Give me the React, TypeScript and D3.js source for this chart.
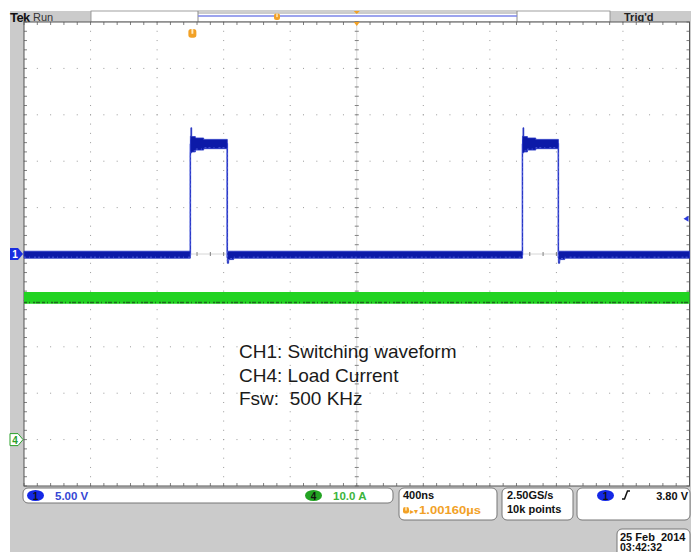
import React from "react";
import * as d3 from "d3";

// CH1 switching node: time in us, envelope low / high in volts (step segments)
const ch1Time = [-1.0, 0.0, 0.003, 0.008, 0.03, 0.08, 0.222, 0.23, 0.26, 1.996, 1.999, 2.004, 2.026, 2.076, 2.212, 2.22, 2.25, 3.0];
const ch1Lo = [-0.45, 10.9, 10.9, 11.0, 11.2, 11.35, -1.0, -0.6, -0.45, 10.9, 10.9, 11.0, 11.2, 11.35, -1.0, -0.6, -0.45, -0.45];
const ch1Hi = [0.3, 12.7, 13.6, 12.65, 12.5, 12.35, 0.3, 0.3, 0.3, 12.7, 13.6, 12.65, 12.5, 12.35, 0.3, 0.3, 0.3, 0.3];

// CH4 load current, amps
const ch4Time = [-1.0, 0.5, 1.0, 1.5, 2.0, 2.5, 3.0];
const ch4Lo = [29.3, 29.3, 29.3, 29.3, 29.3, 29.3, 29.3];
const ch4Hi = [31.8, 31.8, 31.8, 31.8, 31.8, 31.8, 31.8];

const notes = ["CH1: Switching waveform", "CH4: Load Current", "Fsw:  500 KHz"];
const trigLevel = 3.8;

const L = 24, R = 689.5, T = 22, B = 486;
const ui = "'Liberation Sans', Arial, sans-serif";
const orange = "#f2a126";

export default function App() {
  const x = d3.scaleLinear().domain([-1, 3]).range([L, R]);
  const y1 = d3.scaleLinear().domain([-25, 25]).range([B, T]);
  const y4 = d3.scaleLinear().domain([-10, 90]).range([B, T]);
  const gx = d3.scaleLinear().domain([0, 10]).range([L, R]);
  const gy = d3.scaleLinear().domain([0, 10]).range([T, B]);

  const ch1 = ch1Time.map((t, i) => ({ t, lo: ch1Lo[i], hi: ch1Hi[i] }));
  const ch4 = ch4Time.map((t, i) => ({ t, lo: ch4Lo[i], hi: ch4Hi[i] }));

  const band1 = d3.area<any>().x(d => x(d.t)).y0(d => y1(d.lo)).y1(d => y1(d.hi)).curve(d3.curveStepAfter);
  const edge1 = d3.line<any>().x(d => x(d.t)).y(d => y1((d.lo + d.hi) / 2)).curve(d3.curveStepAfter);
  const low1 = d3.line<any>().x(d => x(d.t)).y(d => y1(d.lo) - 1).curve(d3.curveStepAfter);
  const band4 = d3.area<any>().x(d => x(d.t)).y0(d => y4(d.lo)).y1(d => y4(d.hi));
  const low4 = d3.line<any>().x(d => x(d.t)).y(d => y4(d.lo) - 1.2);

  const minors = d3.range(0, 50.5, 1).map(j => j / 5);
  const majors = d3.range(1, 10);

  const dots: JSX.Element[] = [];
  majors.forEach(i => {
    minors.forEach((m, k) => {
      if (i !== 5) dots.push(<rect key={`v${i}-${k}`} x={gx(i) - 0.5} y={gy(m) - 0.5} width={1} height={1} fill="#9a9a9a" />);
      if (i !== 5) dots.push(<rect key={`h${i}-${k}`} x={gx(m) - 0.5} y={gy(i) - 0.5} width={1} height={1} fill="#9a9a9a" />);
    });
  });

  const ticks: JSX.Element[] = [];
  minors.forEach((m, k) => {
    ticks.push(<line key={`cv${k}`} x1={gx(5) - 2} x2={gx(5) + 2} y1={gy(m)} y2={gy(m)} />);
    ticks.push(<line key={`ch${k}`} y1={gy(5) - 2} y2={gy(5) + 2} x1={gx(m)} x2={gx(m)} />);
    ticks.push(<line key={`bt${k}`} x1={gx(m)} x2={gx(m)} y1={T} y2={T + 3} />);
    ticks.push(<line key={`bb${k}`} x1={gx(m)} x2={gx(m)} y1={B} y2={B - 3} />);
    ticks.push(<line key={`bl${k}`} x1={L} x2={L + 3} y1={gy(m)} y2={gy(m)} />);
    ticks.push(<line key={`br${k}`} x1={R} x2={R - 3} y1={gy(m)} y2={gy(m)} />);
  });

  const uMark = (cx: number, cy: number, s: number) => (
    <g>
      <rect x={cx - s / 2} y={cy - s / 2} width={s} height={s * 1.1} rx={s * 0.35} fill={orange} />
      <rect x={cx - s * 0.12} y={cy - s / 2} width={s * 0.24} height={s * 0.6} fill="#ffe9c0" />
    </g>
  );

  const t4 = y4(0);
  const t1 = y1(0);

  return (
    <div>
      <style>{`body{margin:0}`}</style>
      <svg width={699} height={552} style={{ display: "block", background: "#fff" }}>
        {/* instrument frame */}
        <rect x={10} y={11} width={681} height={541} fill="#cbcbcb" />
        <rect x={91} y={11} width={519} height={11} fill="#fff" stroke="#888" strokeWidth={0.8} />
        <line x1={198} x2={198} y1={11} y2={22} stroke="#888" />
        <line x1={517} x2={517} y1={11} y2={22} stroke="#888" />
        <line x1={198} x2={517} y1={13} y2={13} stroke="#999" />
        <line x1={198} x2={517} y1={16} y2={16} stroke="#7b84e8" strokeWidth={1.5} />
        {uMark(277, 16.5, 6)}
        <path d={`M${gx(5) - 3},11 L${gx(5) + 3},11 L${gx(5)},14 Z`} fill={orange} />
        <text x={10} y={21.5} fontFamily={ui} fontWeight="bold" fontSize={13} fill="#111" letterSpacing={-0.6}>Tek</text>
        <text x={33} y={21} fontFamily={ui} fontSize={11} fill="#333">Run</text>
        <text x={624} y={21} fontFamily={ui} fontWeight="bold" fontSize={11} fill="#222">Trig'd</text>

        {/* graticule */}
        <rect x={L} y={T} width={R - L} height={B - T} fill="#fff" />
        <line x1={gx(5)} x2={gx(5)} y1={T} y2={B} stroke="#d6d6d6" />
        <line x1={L} x2={R} y1={gy(5)} y2={gy(5)} stroke="#d6d6d6" />
        {dots}
        <g stroke="#808080" strokeWidth={1}>{ticks}</g>
        <rect x={L} y={T} width={R - L} height={B - T} fill="none" stroke="#555" strokeWidth={1} />

        {/* CH4 trace */}
        <path d={band4(ch4) || ""} fill="#22d322" />
        <path d={low4(ch4) || ""} fill="none" stroke="#1d6b1d" strokeWidth={1.6} strokeDasharray="3 2 1 3 2 1 4 2" />

        {/* CH1 trace */}
        <path d={edge1(ch1) || ""} fill="none" stroke="#6b78ea" strokeWidth={1.6} />
        <path d={band1(ch1) || ""} fill="#0c1aa8" stroke="#2433c4" strokeWidth={0.8} />
        <path d={low1(ch1) || ""} fill="none" stroke="#4b5ad6" strokeWidth={1} strokeDasharray="2 3 1 4 2 2" />

        {/* markers */}
        <path d={`M${gx(5) - 3},${T} L${gx(5) + 3},${T} L${gx(5)},${T + 4} Z`} fill={orange} />
        {uMark(x(0) + 2, 33, 8)}
        <path d={`M10,${t1 - 6} L18,${t1 - 6} L23,${t1} L18,${t1 + 6} L10,${t1 + 6} Z`} fill="#1a2ee0" />
        <text x={15} y={t1 + 4} fontFamily={ui} fontWeight="bold" fontSize={10} fill="#fff" textAnchor="middle">1</text>
        <path d={`M10,${t4 - 6} L18,${t4 - 6} L23,${t4} L18,${t4 + 6} L10,${t4 + 6} Z`} fill="#fff" stroke="#2aa02a" strokeWidth={1} />
        <text x={15} y={t4 + 4} fontFamily={ui} fontWeight="bold" fontSize={10} fill="#2aa02a" textAnchor="middle">4</text>
        <path d={`M${R - 6},${y1(trigLevel)} L${R - 1},${y1(trigLevel) - 3} L${R - 1},${y1(trigLevel) + 3} Z`} fill="#2a3be0" />

        {/* annotation */}
        {notes.map((n, i) => (
          <text key={i} x={239} y={358 + i * 23.5} fontFamily={ui} fontSize={19} fill="#1a1a1a" style={{ whiteSpace: "pre" }}>{n}</text>
        ))}

        {/* status bar */}
        <rect x={23} y={488} width={370} height={15} rx={5} fill="#fff" stroke="#777" />
        <ellipse cx={35.5} cy={495.5} rx={8.5} ry={5.5} fill="#1428e6" />
        <text x={35.5} y={499.5} fontFamily={ui} fontWeight="bold" fontSize={10} fill="#111" textAnchor="middle">1</text>
        <text x={55} y={499.5} fontFamily={ui} fontWeight="bold" fontSize={11.5} fill="#3547d4">5.00 V</text>
        <ellipse cx={313.5} cy={495.5} rx={8.5} ry={5.5} fill="#23a323" />
        <text x={313.5} y={499.5} fontFamily={ui} fontWeight="bold" fontSize={10} fill="#111" textAnchor="middle">4</text>
        <text x={333} y={499.5} fontFamily={ui} fontWeight="bold" fontSize={11.5} fill="#3cb43c">10.0 A</text>

        <rect x={399} y={488} width={98} height={32} rx={5} fill="#fff" stroke="#777" />
        <text x={403} y={499} fontFamily={ui} fontWeight="bold" fontSize={11} fill="#111">400ns</text>
        {uMark(406, 510, 6)}
        <text x={410} y={514} fontFamily={ui} fontSize={8} fill={orange}>▸▾</text>
        <text x={419} y={514} fontFamily={ui} fontWeight="bold" fontSize={11} fill={orange} textLength={62} lengthAdjust="spacingAndGlyphs">1.00160µs</text>

        <rect x={502} y={488} width={71} height={32} rx={5} fill="#fff" stroke="#777" />
        <text x={507} y={499} fontFamily={ui} fontWeight="bold" fontSize={11} fill="#111">2.50GS/s</text>
        <text x={507} y={513} fontFamily={ui} fontWeight="bold" fontSize={11} fill="#111">10k points</text>

        <rect x={577} y={488} width={113} height={32} rx={5} fill="#fff" stroke="#777" />
        <ellipse cx={605.5} cy={495.5} rx={8.5} ry={5.5} fill="#1428e6" />
        <text x={605.5} y={499.5} fontFamily={ui} fontWeight="bold" fontSize={10} fill="#111" textAnchor="middle">1</text>
        <path d="M622,499 h2.5 l3,-8 h2.5" fill="none" stroke="#111" strokeWidth={1.5} />
        <text x={688} y={499.5} fontFamily={ui} fontWeight="bold" fontSize={11} fill="#111" textAnchor="end">{`${trigLevel.toFixed(2)} V`}</text>

        <rect x={617} y={529} width={73} height={30} rx={5} fill="#fff" stroke="#777" />
        <text x={620} y={540.5} fontFamily={ui} fontWeight="bold" fontSize={11} fill="#111" style={{ whiteSpace: "pre" }}>25 Feb  2014</text>
        <text x={620} y={551} fontFamily={ui} fontWeight="bold" fontSize={10.5} fill="#111">03:42:32</text>
      </svg>
    </div>
  );
}
